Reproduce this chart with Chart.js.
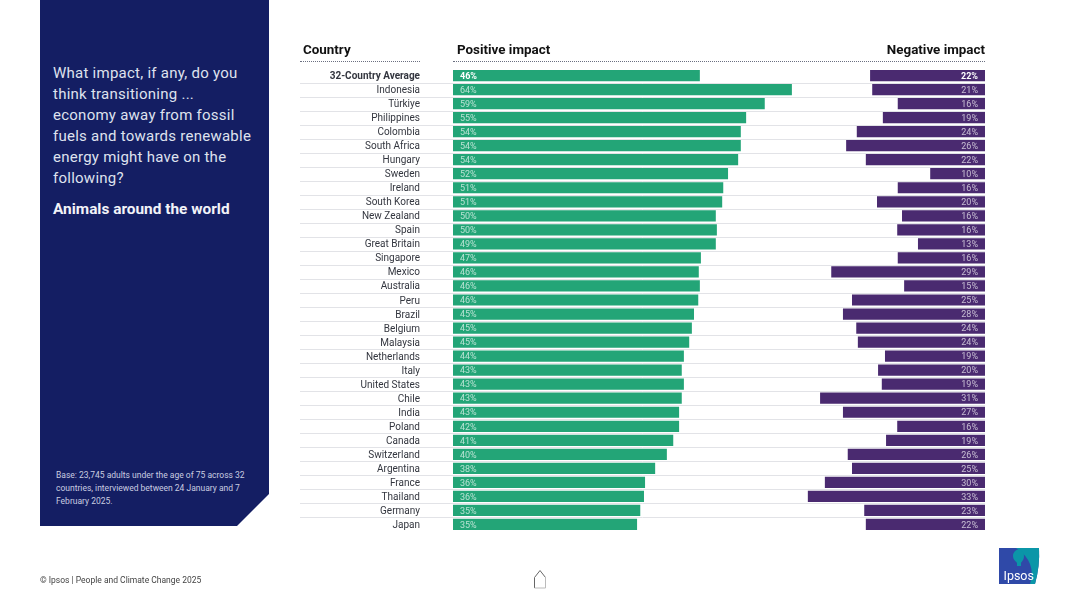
<!DOCTYPE html>
<html>
<head>
<meta charset="utf-8">
<title>People and Climate Change 2025</title>
<script src="https://cdn.jsdelivr.net/npm/chart.js@4"></script>
<style>
  body { margin: 0; background: #fff; font-family: Roboto, sans-serif; }
  #page { position: relative; width: 1080px; height: 607px; overflow: hidden; }
  #chart { position: absolute; left: 0; top: 0; }
  #panel {
    position: absolute; left: 40px; top: 0; width: 229px; height: 526px;
    background: #141e63; color: #fff;
    clip-path: polygon(0 0, 100% 0, 100% 494px, 197px 100%, 0 100%);
  }
  #question { position: absolute; left: 13px; top: 63px; width: 215px; font-size: 15px; line-height: 21px; letter-spacing: 0.25px; color: #dfe2ee; white-space: nowrap; }
  #subject { position: absolute; left: 13px; top: 199px; font-size: 15.4px; line-height: 21px; font-weight: 700; color: #f2f3f8; white-space: nowrap; }
  #base { position: absolute; left: 16px; top: 469px; width: 200px; font-size: 8.5px; line-height: 13px; color: #c9cde0; }
  .head { position: absolute; top: 42px; font-size: 13.4px; font-weight: 700; line-height: 15px; color: #111; }
  .dots { position: absolute; top: 61px; height: 0; border-top: 1.5px dotted #6a6f80; }
  #footer { position: absolute; left: 40px; top: 575px; font-size: 8.5px; line-height: 11px; color: #444; }
  #home { position: absolute; left: 533px; top: 569px; }
  #logo { position: absolute; left: 999px; top: 548px; }
</style>
</head>
<body>
<div id="page">
  <canvas id="chart" width="1080" height="607"></canvas>
  <div id="panel">
    <div id="question">What impact, if any, do you<br>think transitioning ...<br>economy away from fossil<br>fuels and towards renewable<br>energy might have on the<br>following?</div>
    <div id="subject">Animals around the world</div>
    <div id="base">Base: 23,745 adults under the age of 75 across 32 countries, interviewed between 24 January and 7 February 2025.</div>
  </div>
  <div class="head" style="left:303px">Country</div>
  <div class="head" style="left:457px">Positive impact</div>
  <div class="head" style="right:95px">Negative impact</div>
  <div class="dots" style="left:300px;width:120px"></div>
  <div class="dots" style="left:453px;width:532px"></div>
  <div id="footer">© Ipsos | People and Climate Change 2025</div>
  <svg id="home" width="14" height="20" viewBox="0 0 14 20">
    <path d="M1.5 19V8.5L7 1.5L12.5 8.5" fill="none" stroke="#666" stroke-width="1"/>
    <path d="M1.5 19H12.5V8.5" fill="none" stroke="#bbb" stroke-width="1"/>
  </svg>
  <svg id="logo" width="41" height="37" viewBox="0 0 41 37">
    <path d="M0 0H40Q41 18 36 36L0 36Z" fill="#2f49a8"/>
    <path d="M17 0H40Q41 18 36 36L31 36Q38 14 17 0Z" fill="#0b96a8"/>
    <path d="M14 8a5.5 6.5 0 0 1 11 0c0 4 -2 5 -3 7v3h-4v-3c-1 -2 -4 -3 -4 -7Z" fill="#0b96a8"/>
    <text x="4.5" y="32" font-family="Roboto, sans-serif" font-size="12.5" fill="#fff">Ipsos</text>
  </svg>
</div>
<script>
const countries = ["32-Country Average", "Indonesia", "Türkiye", "Philippines", "Colombia", "South Africa", "Hungary", "Sweden", "Ireland", "South Korea", "New Zealand", "Spain", "Great Britain", "Singapore", "Mexico", "Australia", "Peru", "Brazil", "Belgium", "Malaysia", "Netherlands", "Italy", "United States", "Chile", "India", "Poland", "Canada", "Switzerland", "Argentina", "France", "Thailand", "Germany", "Japan"];
// bar lengths, labels as printed on the bars
const positiveValues = [46.4, 63.7, 58.6, 55.1, 54.1, 54.1, 53.6, 51.7, 50.8, 50.6, 49.4, 49.6, 49.4, 46.6, 46.2, 46.4, 46.1, 45.3, 44.9, 44.4, 43.4, 43.0, 43.4, 43.0, 42.5, 42.5, 41.4, 40.2, 38.0, 36.1, 35.9, 35.2, 34.6];
const negativeValues = [21.6, 21.2, 16.4, 19.2, 24.1, 26.1, 22.4, 10.3, 16.4, 20.3, 15.6, 16.5, 12.6, 16.4, 28.9, 15.2, 25.0, 26.7, 24.2, 23.9, 18.8, 20.1, 19.4, 31.0, 26.7, 16.5, 18.6, 25.8, 25.0, 30.1, 33.3, 22.7, 22.4];
const positiveLabels = [46, 64, 59, 55, 54, 54, 54, 52, 51, 51, 50, 50, 49, 47, 46, 46, 46, 45, 45, 45, 44, 43, 43, 43, 43, 42, 41, 40, 38, 36, 36, 35, 35];
const negativeLabels = [22, 21, 16, 19, 24, 26, 22, 10, 16, 20, 16, 16, 13, 16, 29, 15, 25, 28, 24, 24, 19, 20, 19, 31, 27, 16, 19, 26, 25, 30, 33, 23, 22];

const fontFamily = "Roboto, sans-serif";

// Separators under each row, they also run left under the country names
const rowLines = {
  id: "rowLines",
  beforeDatasetsDraw(chart) {
    const { ctx, scales: { y }, chartArea } = chart;
    ctx.save();
    ctx.strokeStyle = "#e2e3e7";
    ctx.lineWidth = 1;
    for (let i = 0; i < countries.length - 1; i++) {
      const yPos = Math.round((y.getPixelForTick(i) + y.getPixelForTick(i + 1)) / 2) + 0.5;
      ctx.beginPath();
      ctx.moveTo(300, yPos);
      ctx.lineTo(chartArea.right, yPos);
      ctx.stroke();
    }
    ctx.restore();
  },
};

// Percent labels inside the bars
const barLabels = {
  id: "barLabels",
  afterDatasetsDraw(chart) {
    const { ctx, chartArea } = chart;
    const { y } = chart.scales;
    ctx.save();
    ctx.textBaseline = "middle";
    countries.forEach((name, i) => {
      const yPos = y.getPixelForTick(i) + 1;
      const first = i === 0;
      ctx.font = (first ? "700 " : "400 ") + "9px " + fontFamily;
      ctx.fillStyle = first ? "#ffffff" : "rgba(255,255,255,0.68)";
      ctx.textAlign = "left";
      ctx.fillText(positiveLabels[i] + "%", chartArea.left + 7, yPos);
      ctx.textAlign = "right";
      ctx.fillText(negativeLabels[i] + "%", chartArea.right - 7, yPos);
    });
    ctx.restore();
  },
};

new Chart(document.getElementById("chart").getContext("2d"), {
  type: "bar",
  data: {
    labels: countries,
    datasets: [
      { label: "Positive impact", data: positiveValues, backgroundColor: "#23a577", xAxisID: "x", grouped: false },
      { label: "Negative impact", data: negativeValues, backgroundColor: "#4a2a70", xAxisID: "xNeg", grouped: false },
    ],
  },
  options: {
    indexAxis: "y",
    responsive: false,
    animation: false,
    layout: { padding: { left: 300, top: 68.5, right: 95, bottom: 75.5 } },
    categoryPercentage: 1,
    barPercentage: 0.8,
    plugins: { legend: { display: false }, tooltip: { enabled: false } },
    scales: {
      x: { display: false, min: 0, max: 100 },
      xNeg: { display: false, min: 0, max: 100, reverse: true },
      y: {
        afterFit(scale) { scale.width = 153; },
        border: { display: false },
        grid: { display: false },
        ticks: {
          autoSkip: false,
          padding: 25,
          labelOffset: 1,
          color: "#33363f",
          font: (c) => ({ family: fontFamily, size: 10, weight: c.index === 0 ? "700" : "400" }),
        },
      },
    },
  },
  plugins: [rowLines, barLabels],
});
</script>
</body>
</html>
